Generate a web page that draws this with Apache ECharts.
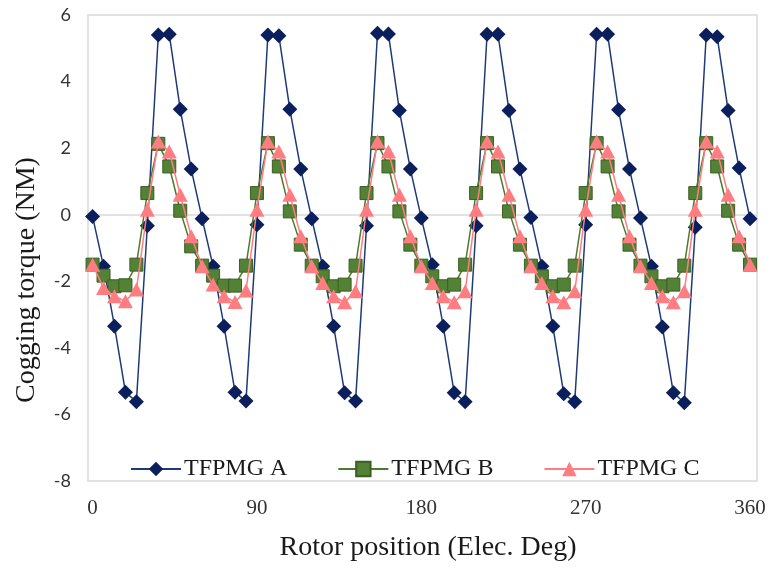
<!DOCTYPE html>
<html>
<head>
<meta charset="utf-8">
<script src="https://cdn.jsdelivr.net/npm/echarts@6/dist/echarts.min.js"></script>
<style>
  html, body { margin: 0; padding: 0; background: #ffffff; }
  #chart { width: 772px; height: 572px; }
</style>
</head>
<body>
<div id="chart"></div>
<script>
// Rotor position, electrical degrees (0..360, 6° steps)
const positions = [
  0, 6, 12, 18, 24, 30, 36, 42, 48, 54,
  60, 66, 72, 78, 84, 90, 96, 102, 108, 114,
  120, 126, 132, 138, 144, 150, 156, 162, 168, 174,
  180, 186, 192, 198, 204, 210, 216, 222, 228, 234,
  240, 246, 252, 258, 264, 270, 276, 282, 288, 294,
  300, 306, 312, 318, 324, 330, 336, 342, 348, 354,
  360
];

// Cogging torque (NM)
const tfpmgA = [
  -0.05, -1.55, -3.35, -5.33, -5.62, -0.33, 5.40, 5.42, 3.17, 1.37,
  -0.12, -1.55, -3.35, -5.33, -5.60, -0.30, 5.40, 5.38, 3.17, 1.37,
  -0.12, -1.55, -3.35, -5.35, -5.60, -0.33, 5.45, 5.43, 3.13, 1.37,
  -0.10, -1.50, -3.35, -5.35, -5.62, -0.33, 5.42, 5.42, 3.13, 1.37,
  -0.08, -1.55, -3.35, -5.38, -5.62, -0.30, 5.42, 5.42, 3.15, 1.37,
  -0.10, -1.55, -3.37, -5.35, -5.65, -0.38, 5.40, 5.35, 3.13, 1.40,
  -0.12
];

const tfpmgB = [
  -1.50, -1.83, -2.15, -2.12, -1.50, 0.65, 2.13, 1.45, 0.12, -0.95,
  -1.53, -1.83, -2.13, -2.13, -1.53, 0.65, 2.15, 1.45, 0.10, -0.90,
  -1.53, -1.85, -2.15, -2.10, -1.53, 0.65, 2.15, 1.45, 0.10, -0.90,
  -1.53, -1.85, -2.15, -2.10, -1.50, 0.65, 2.15, 1.45, 0.10, -0.90,
  -1.53, -1.85, -2.15, -2.10, -1.53, 0.65, 2.15, 1.45, 0.10, -0.90,
  -1.53, -1.85, -2.15, -2.10, -1.53, 0.65, 2.15, 1.45, 0.12, -0.90,
  -1.50
];

const tfpmgC = [
  -1.50, -2.20, -2.45, -2.60, -2.25, 0.15, 2.20, 1.90, 0.60, -0.65,
  -1.55, -2.10, -2.45, -2.62, -2.28, 0.15, 2.20, 1.90, 0.60, -0.65,
  -1.55, -2.05, -2.45, -2.63, -2.30, 0.15, 2.20, 1.90, 0.60, -0.65,
  -1.55, -2.05, -2.45, -2.63, -2.30, 0.15, 2.20, 1.90, 0.60, -0.65,
  -1.55, -2.05, -2.45, -2.63, -2.30, 0.15, 2.20, 1.90, 0.60, -0.65,
  -1.55, -2.05, -2.45, -2.63, -2.30, 0.15, 2.20, 1.90, 0.60, -0.65,
  -1.50
];

const seriesNames = ['TFPMG A', 'TFPMG B', 'TFPMG C'];
const xTicks = [0, 90, 180, 270, 360];

const pair = (ys) => positions.map((x, i) => [x, ys[i]]);

const serif = '"Liberation Serif", "Times New Roman", serif';
const sans = 'Lato, "Liberation Sans", sans-serif';

const chart = echarts.init(document.getElementById('chart'), null, { renderer: 'canvas' });

chart.setOption({
  animation: false,
  backgroundColor: '#ffffff',
  grid: {
    left: 88, top: 15, width: 669, height: 466,
    show: true, borderColor: '#d9d9d9', borderWidth: 1.5,
    containLabel: false
  },
  legend: {
    data: seriesNames,
    left: 125, top: 452,
    itemWidth: 50, itemHeight: 18, itemGap: 50,
    textStyle: { fontFamily: serif, fontSize: 24, color: '#1a1a1a', padding: [0, 0, 0, -2] }
  },
  xAxis: {
    type: 'value',
    min: -2.5, max: 363.8,
    axisLine: { show: false },
    axisTick: { show: false },
    splitLine: { show: false },
    axisLabel: {
      customValues: xTicks,
      margin: 17,
      fontFamily: serif, fontSize: 21, color: '#333333'
    }
  },
  yAxis: {
    type: 'value',
    min: -8, max: 6, interval: 2,
    axisLine: { show: false },
    axisTick: { show: false },
    splitLine: { show: false },
    axisLabel: {
      margin: 17,
      fontFamily: sans, fontSize: 18, color: '#333333'
    }
  },
  graphic: [
    {
      type: 'text',
      x: 27, y: 280, rotation: Math.PI / 2,
      style: {
        text: 'Cogging torque (NM)',
        fontFamily: serif, fontSize: 28, fill: '#1a1a1a',
        align: 'center', verticalAlign: 'middle'
      }
    },
    {
      type: 'text',
      x: 428, y: 548,
      style: {
        text: 'Rotor position (Elec. Deg)',
        fontFamily: serif, fontSize: 28, fill: '#1a1a1a',
        align: 'center', verticalAlign: 'middle'
      }
    }
  ],
  series: [
    {
      name: seriesNames[0],
      type: 'line',
      data: pair(tfpmgA),
      symbol: 'diamond', symbolSize: 15,
      z: 2,
      lineStyle: { color: '#1f3a78', width: 1.5 },
      itemStyle: { color: '#0a1f5c', borderColor: '#0a1f5c', borderWidth: 0 },
      markLine: {
        silent: true, symbol: 'none', label: { show: false },
        lineStyle: { color: '#d9d9d9', width: 1.5, type: 'solid' },
        data: [{ yAxis: 0 }],
        z: 0
      }
    },
    {
      name: seriesNames[1],
      type: 'line',
      data: pair(tfpmgB),
      symbol: 'rect', symbolSize: 13,
      z: 3,
      lineStyle: { color: '#4e7a2e', width: 1.5 },
      itemStyle: { color: '#538135', borderColor: '#3b5e22', borderWidth: 1 }
    },
    {
      name: seriesNames[2],
      type: 'line',
      data: pair(tfpmgC),
      symbol: 'triangle', symbolSize: [15, 14],
      z: 4,
      lineStyle: { color: '#ff7c80', width: 1.5 },
      itemStyle: { color: '#ff7c80', borderWidth: 0 }
    }
  ]
});
</script>
</body>
</html>
